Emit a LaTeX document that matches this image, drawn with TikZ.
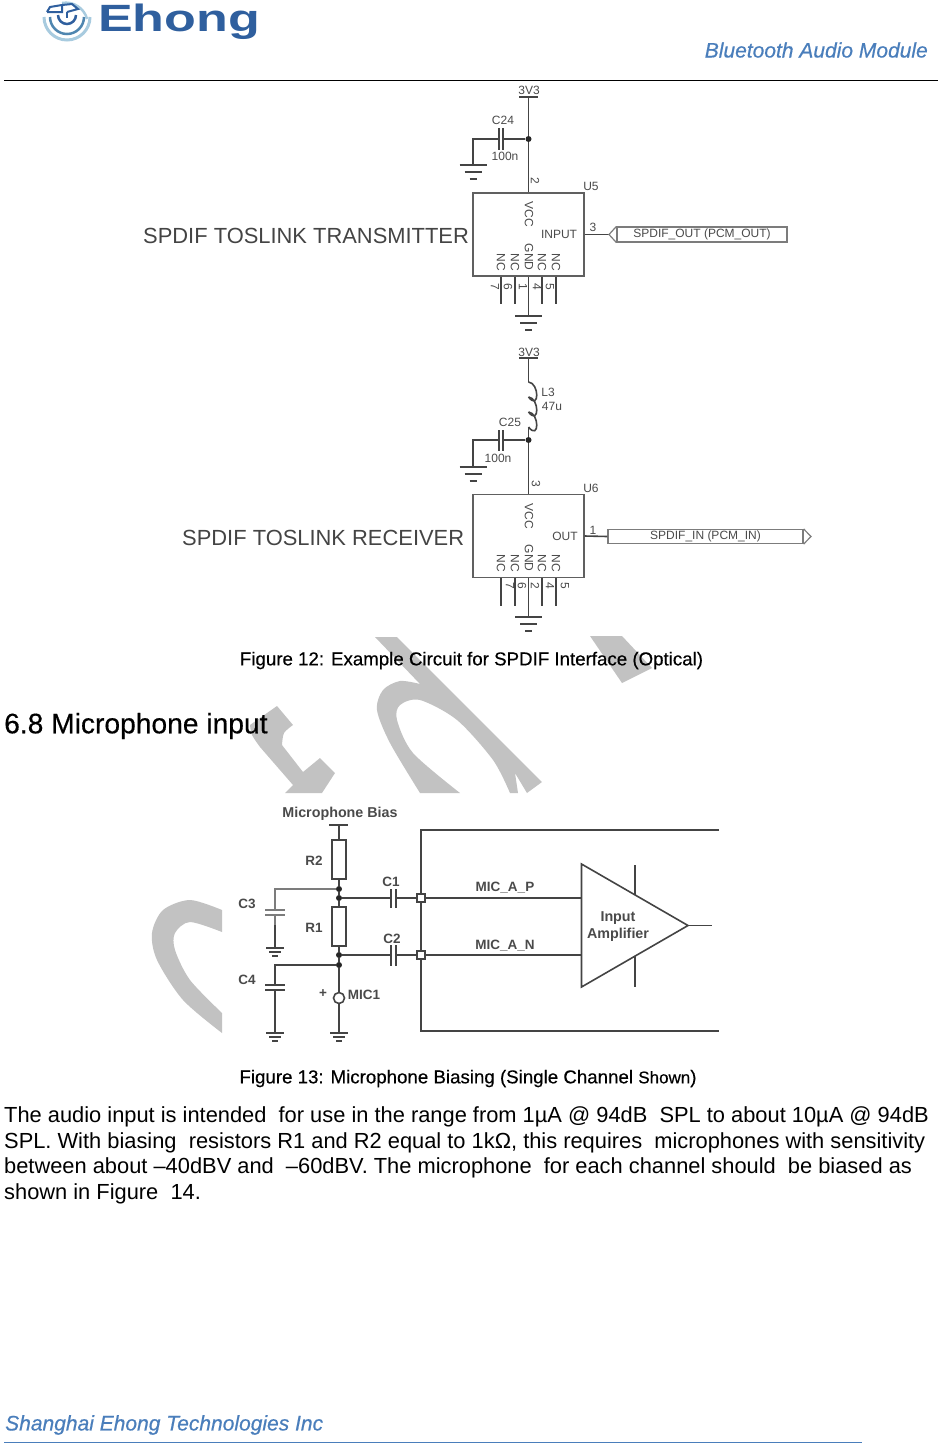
\documentclass[tikz,border=0pt]{standalone}
\usepackage{fontspec}
\setmainfont{Liberation Sans}
\newfontfamily\heavyfont[FakeBold=0.4]{Liberation Sans}
\newfontfamily\slantfont[UprightFont=* Italic,FakeBold=0.5]{Liberation Sans}
\definecolor{wirecol}{HTML}{444444}
\definecolor{schemtext}{HTML}{4A4A4A}
\definecolor{markcol}{HTML}{C2C2C2}
\definecolor{headblue}{HTML}{4A7EBB}
\definecolor{logoblue}{HTML}{2F5F9E}
\definecolor{logomid}{HTML}{4F86B0}
\definecolor{logolight}{HTML}{A8CBDF}
\tikzset{
  wire/.style={draw=wirecol, line width=1.6pt},
  thinwire/.style={draw=wirecol!70, line width=1.2pt},
  chipbox/.style={draw=wirecol!85, line width=1.2pt, minimum width=111pt, minimum height=83pt, inner sep=0pt},
  resbox/.style={draw=wirecol, line width=1.4pt, fill=white, minimum width=14pt, minimum height=39pt, inner sep=0pt},
  dot/.style={circle, fill=black!85, minimum size=6pt, inner sep=0pt},
  padbox/.style={draw=wirecol, line width=1.2pt, fill=white, minimum size=8pt, inner sep=0pt},
  schemlabel/.style={text=schemtext, inner sep=0pt, font=\fontsize{12}{14}\selectfont},
  boldlabel/.style={text=schemtext, inner sep=0pt, yshift=-1.5pt, font=\fontsize{13.5}{15}\selectfont\bfseries},
  widelabel/.style={text=schemtext, inner sep=0pt, yshift=-1.5pt, align=center, font=\fontsize{14.3}{17}\selectfont\bfseries},
  biglabel/.style={text=wirecol, inner sep=0pt, yshift=-1pt, font=\fontsize{21.9}{26}\selectfont},
  captionlabel/.style={inner sep=0pt, yshift=-1pt, font=\heavyfont\fontsize{18.7}{22}\selectfont},
  blueslant/.style={text=headblue, inner sep=0pt, font=\slantfont\fontsize{21}{24}\selectfont},
  gndbig/.pic={\foreach \w/\d in {13.5/0,8.5/7,3.5/14}
    \draw[wire] (-\w,\d) -- (\w,\d);},
  gndsmall/.pic={\foreach \w/\d in {9/0,6/4,3/8}
    \draw[wire] (-\w,\d) -- (\w,\d);}
}
\begin{document}
\begin{tikzpicture}[x=1pt,y=-1pt]
\useasboundingbox (0,0) rectangle (939,1444);
% watermark
\fill[markcol] (375,637) -- (420,684) -- plot[smooth] coordinates {(420,684) (400,681) (383,690) (377,710) (390,743) (420,793)} -- (460,793) -- plot[smooth] coordinates {(460,793) (413,753) (397,720) (400,705) (420,700) (457,720) (493,760) (510,793)} -- (518,793) -- (515,773) -- (527,793) -- (542,782) -- (397,637) -- cycle;
\fill[markcol] (590,636) -- (622,636) -- (652,668) -- (622,683) -- cycle;
\fill[markcol] (277,706) -- plot[smooth] coordinates {(293,725) (284,733) (282,745)} -- (303,772) -- (320,758) -- (335,773) -- (322,793) -- (285,793) -- (293,785) -- (260,747) -- plot[smooth] coordinates {(260,747) (252,735) (250,725)} -- cycle;
\fill[markcol] plot[smooth] coordinates {(222,910) (190,900) (163,910) (152,933) (157,960) (183,1000) (222,1033)} -- (222,1013) -- plot[smooth] coordinates {(222,1013) (190,980) (175,950) (175,933) (190,922) (222,932)} -- cycle;
% header
\draw[logolight, line width=3pt] (90,17) arc[start angle=0, end angle=180, radius=23];
\draw[logolight, line width=2.5pt] (62,3) arc[start angle=-100, end angle=-15, radius=22];
\draw[logomid, line width=2.5pt] (84,17) arc[start angle=0, end angle=180, radius=17];
\draw[logoblue, line width=2.5pt] (76,15) arc[start angle=0, end angle=180, radius=9];
\draw[logoblue, line width=2pt] (47,12) -- (62,12) -- (62,5) -- (50,7) -- (47,12);
\draw[logoblue, line width=2pt] (67,12) -- (67,18);
\draw[logoblue, line width=2pt] (62,5) -- (72,4) -- (78,9) -- (67,12);
\node[font=\fontsize{38}{42}\selectfont\bfseries, text=logoblue, inner sep=0pt, xscale=1.37] (logoname) at (179,21.5) {Ehong};
\node[blueslant, anchor=east] (modname) at (928,50) {Bluetooth Audio Module};
\coordinate (ruleleft) at (4,80);
\coordinate (ruleright) at (938,80);
\draw[black, line width=1pt] (ruleleft) -- (ruleright);
% transmitter
\node[biglabel, anchor=west] (txname) at (143,235) {SPDIF TOSLINK TRANSMITTER};
\node[chipbox] (chipa) at (528.5,234.5) {};
\node[schemlabel] (chipaname) at (591,186) {U5};
\coordinate (vcca) at (528.5,97);
\node[dot] (ja) at (528.5,139) {};
\node[schemlabel] (vccalabel) at (529,90) {3V3};
\draw[wire] (vcca) -- (ja) -- (chipa.north);
\draw[wire] (519,97) -- (538,97);
\coordinate (capal) at (499,139);
\coordinate (capar) at (503,139);
\coordinate (capag) at (473,165);
\draw[wire] (ja) -- (capar);
\draw[wire] (capal) -- (473,139) -- (capag);
\draw[wire] (499,128) -- (499,150);
\draw[wire] (503,128) -- (503,150);
\pic at (capag) {gndbig};
\node[schemlabel] (capaname) at (503,120) {C24};
\node[schemlabel] (capaval) at (505,156) {100n};
\node[schemlabel, rotate=-90] (pina) at (535,181) {2};
\node[schemlabel, rotate=-90] (vcctxta) at (529,214) {VCC};
\node[schemlabel] (inputtxt) at (559,234) {INPUT};
\node[schemlabel, rotate=-90] (gndtxta) at (529,257) {GND};
\foreach \x in {501,515,542,556}
\node[schemlabel, rotate=-90] (nca\x) at (\x,262) {NC};
\foreach \x in {-27.5,-13.5,13.5,27.5}
\draw[wire] (chipa.south) ++(\x,0) -- ++(0,27);
\coordinate (gnda) at (528.5,316);
\draw[wire] (chipa.south) -- (gnda);
\pic at (gnda) {gndbig};
\foreach \x/\n in {495/7,508/6,523/1,537/4,550/5}
\node[schemlabel, rotate=-90] (numa\n) at (\x,287) {\n};
\node[draw=wirecol!70, line width=1.2pt, inner sep=0pt, minimum width=170pt, minimum height=15pt, text=schemtext, font=\fontsize{12}{14}\selectfont] (porta) at (702,234.5) {SPDIF\_OUT (PCM\_OUT)};
\coordinate (portatip) at (609,234.5);
\draw[wire] (chipa.east) -- (portatip);
\draw[thinwire] (porta.north west) -- (portatip) -- (porta.south west);
\node[schemlabel] (numthree) at (593,227) {3};
% receiver
\node[biglabel, anchor=west] (rxname) at (182,537) {SPDIF TOSLINK RECEIVER};
\node[chipbox] (chipb) at (528.5,536) {};
\node[schemlabel] (chipbname) at (591,488) {U6};
\coordinate (vccb) at (528.5,358);
\coordinate (indtop) at (528.5,382);
\coordinate (indbot) at (528.5,427);
\node[dot] (jb) at (528.5,440) {};
\node[schemlabel] (vccblabel) at (529,352) {3V3};
\draw[wire] (519,358) -- (538,358);
\draw[wire] (vccb) -- (indtop);
\foreach \y in {382,397,412}
\draw[wire] (528.5,\y) .. controls +(11,1) and +(11,14) .. +(0,15);
\draw[wire] (indbot) -- (jb) -- (chipb.north);
\node[schemlabel] (indname) at (548,392) {L3};
\node[schemlabel] (indval) at (552,406) {47u};
\coordinate (capbl) at (499,440);
\coordinate (capbr) at (503,440);
\coordinate (capbg) at (473,467);
\draw[wire] (jb) -- (capbr);
\draw[wire] (capbl) -- (473,440) -- (capbg);
\draw[wire] (499,430) -- (499,451);
\draw[wire] (503,430) -- (503,451);
\pic at (capbg) {gndbig};
\node[schemlabel] (capbname) at (510,422) {C25};
\node[schemlabel] (capbval) at (498,458) {100n};
\node[schemlabel, rotate=-90] (pinb) at (536,484) {3};
\node[schemlabel, rotate=-90] (vcctxtb) at (529,516) {VCC};
\node[schemlabel] (outtxt) at (565,536) {OUT};
\node[schemlabel, rotate=-90] (gndtxtb) at (529,558) {GND};
\foreach \x in {501,515,542,556}
\node[schemlabel, rotate=-90] (ncb\x) at (\x,563) {NC};
\foreach \x in {-27.5,-13.5,13.5,27.5}
\draw[wire] (chipb.south) ++(\x,0) -- ++(0,28);
\coordinate (gndb) at (528.5,617);
\draw[wire] (chipb.south) -- (gndb);
\pic at (gndb) {gndbig};
\foreach \x/\n in {510/7,522/6,535/2,550/4,565/5}
\node[schemlabel, rotate=-90] (numb\n) at (\x,586) {\n};
\node[draw=wirecol!70, line width=1.2pt, inner sep=0pt, minimum width=195pt, minimum height=14pt, text=schemtext, font=\fontsize{12}{14}\selectfont] (portb) at (705.5,536.5) {SPDIF\_IN (PCM\_IN)};
\coordinate (portbtip) at (811,536.5);
\draw[wire] (chipb.east) -- (portb.west);
\draw[thinwire] (portb.north east) -- (portbtip) -- (portb.south east);
\node[schemlabel] (numone) at (593,530) {1};
\node[captionlabel] (figa) at (471.5,659.5) {Figure 12: Example Circuit for SPDIF Interface (Optical)};
\node[inner sep=0pt, anchor=west, font=\heavyfont\fontsize{28.2}{31}\selectfont] (secname) at (4,726) {6.8 Microphone input};
% microphone
\node[widelabel] (biasname) at (340,812) {Microphone Bias};
\coordinate (biastop) at (339,825);
\draw[wire] (329,825) -- (348,825);
\node[resbox] (rtwo) at (339,859.5) {};
\node[resbox] (rone) at (339,926.5) {};
\node[dot] (jc) at (339,889) {};
\node[dot] (jd) at (339,898) {};
\node[dot] (je) at (339,955) {};
\node[dot] (jf) at (339,965) {};
\node[circle, draw=wirecol, line width=1.6pt, minimum size=11pt, inner sep=0pt] (micone) at (339,998) {};
\coordinate (gndmic) at (339,1033);
\draw[wire] (biastop) -- (rtwo.north);
\draw[wire] (rtwo.south) -- (jc) -- (jd) -- (rone.north);
\draw[wire] (rone.south) -- (je) -- (jf) -- (micone.north);
\draw[wire] (micone.south) -- (gndmic);
\pic at (gndmic) {gndsmall};
\coordinate (capct) at (275,889);
\draw[thinwire] (jc) -- (capct) -- (275,910);
\draw[thinwire] (265,910) -- (285,910);
\draw[thinwire] (265,915) -- (285,915);
\draw[thinwire] (275,915) -- (275,925);
\coordinate (gndc) at (275,948);
\draw[wire] (275,925) -- (gndc);
\pic at (gndc) {gndsmall};
\coordinate (capdt) at (275,965);
\coordinate (gndd) at (275,1033);
\draw[wire] (jf) -- (capdt) -- (275,985);
\draw[wire] (265,985) -- (285,985);
\draw[wire] (265,990) -- (285,990);
\draw[wire] (275,990) -- (gndd);
\pic at (gndd) {gndsmall};
\coordinate (frametr) at (719,830);
\coordinate (frametl) at (421,830);
\coordinate (framebl) at (421,1031);
\coordinate (framebr) at (719,1031);
\draw[wire] (frametr) -- (frametl) -- (framebl) -- (framebr);
\node[padbox] (pada) at (421,898) {};
\node[padbox] (padb) at (421,955) {};
\draw[wire] (jd) -- (391,898);
\draw[wire] (396,898) -- (pada);
\draw[wire] (391,889) -- (391,908);
\draw[wire] (396,889) -- (396,908);
\draw[wire] (je) -- (391,955);
\draw[wire] (396,955) -- (padb);
\draw[wire] (391,945) -- (391,966);
\draw[wire] (396,945) -- (396,966);
\coordinate (ampa) at (581.5,864);
\coordinate (ampb) at (581.5,987);
\coordinate (ampc) at (688,925.5);
\coordinate (ampout) at (712,925.5);
\draw[wire] (ampa) -- (ampc) -- (ampb) -- cycle;
\draw[wire] (ampc) -- (ampout);
\draw[wire] (pada) -- (581.5,898);
\draw[wire] (padb) -- (581.5,955);
\draw[wire] (635,865) -- (635,895);
\draw[wire] (635,956) -- (635,987);
\node[boldlabel] (mica) at (505,886) {MIC\_A\_P};
\node[boldlabel] (micb) at (505,944) {MIC\_A\_N};
\node[widelabel] (ampname) at (618,925.5) {Input\\Amplifier};
\node[boldlabel] (rtwoname) at (314,859) {R2};
\node[boldlabel] (ronename) at (314,926) {R1};
\node[boldlabel] (capcname) at (247,902) {C3};
\node[boldlabel] (capdname) at (247,978) {C4};
\node[boldlabel] (capaone) at (391,880) {C1};
\node[boldlabel] (capatwo) at (392,937) {C2};
\node[boldlabel] (plusname) at (323,992) {+};
\node[boldlabel] (miconame) at (364,993) {MIC1};
\node[captionlabel] (figb) at (468,1077.5) {Figure 13: Microphone Biasing (Single Channel {\fontsize{17}{22}\selectfont Shown})};
\node[anchor=north west, inner sep=0pt, align=left, font=\fontsize{21.85}{25.7}\selectfont] (para) at (4,1106.5) {The audio input is intended\ \ for use in the range from 1µA @ 94dB\ \ SPL to about 10µA @ 94dB\\SPL. With biasing\ \ resistors R1 and R2 equal to 1kΩ, this requires\ \ microphones with sensitivity\\between about –40dBV and\ \ –60dBV. The microphone\ \ for each channel should\ \ be biased as\\shown in Figure\ \ 14.};
% footer
\node[blueslant, anchor=west] (corpname) at (5,1425) {Shanghai Ehong Technologies Inc};
\coordinate (footleft) at (4,1442.5);
\coordinate (footright) at (862,1442.5);
\draw[headblue, line width=1.5pt] (footleft) -- (footright);
\end{tikzpicture}
\end{document}
